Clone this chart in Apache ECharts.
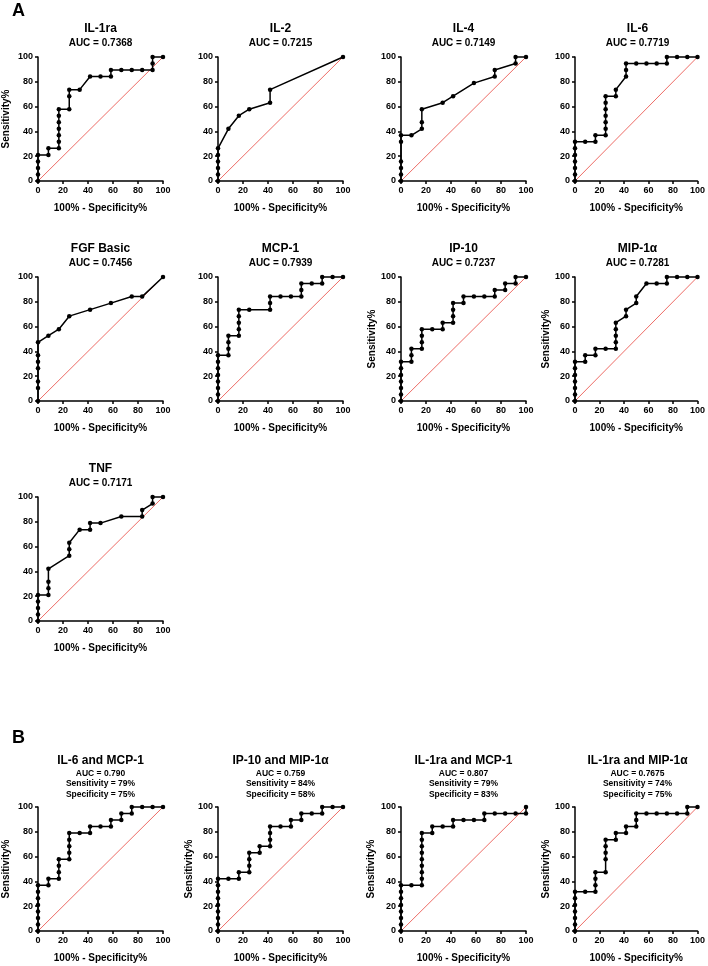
<!DOCTYPE html>
<html>
<head>
<meta charset="utf-8">
<script src="https://cdn.jsdelivr.net/npm/echarts@6/dist/echarts.min.js"></script>
<style>
html, body { margin: 0; padding: 0; background: #fff; }
#main { width: 708px; height: 966px; }
</style>
</head>
<body>
<div id="main"></div>
<script>
// 每个面板的 ROC 曲线数据 [100%-Specificity%, Sensitivity%]
var il1ra = [[0,0],[0,5.26],[0,10.53],[0,15.79],[0,21.05],[8.33,21.05],[8.33,26.32],[16.67,26.32],[16.67,31.58],[16.67,36.84],[16.67,42.11],[16.67,47.37],[16.67,52.63],[16.67,57.89],[25,57.89],[25,68.42],[25,73.68],[33.33,73.68],[41.67,84.21],[50,84.21],[58.33,84.21],[58.33,89.47],[66.67,89.47],[75,89.47],[83.33,89.47],[91.67,89.47],[91.67,94.74],[91.67,100],[100,100]];
var il2 = [[0,0],[0,5.26],[0,10.53],[0,15.79],[0,21.05],[0,26.32],[8.33,42.11],[16.67,52.63],[25,57.89],[41.67,63.16],[41.67,73.68],[100,100]];
var il4 = [[0,0],[0,5.26],[0,10.53],[0,15.79],[0,31.58],[0,36.84],[8.33,36.84],[16.67,42.11],[16.67,47.37],[16.67,57.89],[33.33,63.16],[41.67,68.42],[58.33,78.95],[75,84.21],[75,89.47],[91.67,94.74],[91.67,100],[100,100]];
var il6 = [[0,0],[0,5.26],[0,10.53],[0,15.79],[0,21.05],[0,26.32],[0,31.58],[8.33,31.58],[16.67,31.58],[16.67,36.84],[25,36.84],[25,42.11],[25,47.37],[25,52.63],[25,57.89],[25,63.16],[25,68.42],[33.33,68.42],[33.33,73.68],[41.67,84.21],[41.67,89.47],[41.67,94.74],[50,94.74],[58.33,94.74],[66.67,94.74],[75,94.74],[75,100],[83.33,100],[91.67,100],[100,100]];
var fgf = [[0,0],[0,10.53],[0,15.79],[0,26.32],[0,31.58],[0,36.84],[0,47.37],[8.33,52.63],[16.67,57.89],[25,68.42],[41.67,73.68],[58.33,78.95],[75,84.21],[83.33,84.21],[100,100]];
var mcp1 = [[0,0],[0,5.26],[0,10.53],[0,15.79],[0,21.05],[0,26.32],[0,31.58],[0,36.84],[8.33,36.84],[8.33,42.11],[8.33,47.37],[8.33,52.63],[16.67,52.63],[16.67,57.89],[16.67,63.16],[16.67,68.42],[16.67,73.68],[25,73.68],[41.67,73.68],[41.67,78.95],[41.67,84.21],[50,84.21],[58.33,84.21],[66.67,84.21],[66.67,89.47],[66.67,94.74],[75,94.74],[83.33,94.74],[83.33,100],[91.67,100],[100,100]];
var ip10 = [[0,0],[0,5.26],[0,10.53],[0,15.79],[0,21.05],[0,26.32],[0,31.58],[8.33,31.58],[8.33,36.84],[8.33,42.11],[16.67,42.11],[16.67,47.37],[16.67,52.63],[16.67,57.89],[25,57.89],[33.33,57.89],[33.33,63.16],[41.67,63.16],[41.67,68.42],[41.67,73.68],[41.67,78.95],[50,78.95],[50,84.21],[58.33,84.21],[66.67,84.21],[75,84.21],[75,89.47],[83.33,89.47],[83.33,94.74],[91.67,94.74],[91.67,100],[100,100]];
var mip1a = [[0,0],[0,5.26],[0,10.53],[0,15.79],[0,21.05],[0,26.32],[0,31.58],[8.33,31.58],[8.33,36.84],[16.67,36.84],[16.67,42.11],[25,42.11],[33.33,42.11],[33.33,47.37],[33.33,52.63],[33.33,57.89],[33.33,63.16],[41.67,68.42],[41.67,73.68],[50,78.95],[50,84.21],[58.33,94.74],[66.67,94.74],[75,94.74],[75,100],[83.33,100],[91.67,100],[100,100]];
var tnf = [[0,0],[0,5.26],[0,10.53],[0,15.79],[0,21.05],[8.33,21.05],[8.33,26.32],[8.33,31.58],[8.33,42.11],[25,52.63],[25,57.89],[25,63.16],[33.33,73.68],[41.67,73.68],[41.67,78.95],[50,78.95],[66.67,84.21],[83.33,84.21],[83.33,89.47],[91.67,94.74],[91.67,100],[100,100]];
var il6mcp1 = [[0,0],[0,5.26],[0,10.53],[0,15.79],[0,21.05],[0,26.32],[0,31.58],[0,36.84],[8.33,36.84],[8.33,42.11],[16.67,42.11],[16.67,47.37],[16.67,52.63],[16.67,57.89],[25,57.89],[25,63.16],[25,68.42],[25,73.68],[25,78.95],[33.33,78.95],[41.67,78.95],[41.67,84.21],[50,84.21],[58.33,84.21],[58.33,89.47],[66.67,89.47],[66.67,94.74],[75,94.74],[75,100],[83.33,100],[91.67,100],[100,100]];
var ip10mip = [[0,0],[0,5.26],[0,10.53],[0,15.79],[0,21.05],[0,26.32],[0,31.58],[0,36.84],[0,42.11],[8.33,42.11],[16.67,42.11],[16.67,47.37],[25,47.37],[25,52.63],[25,57.89],[25,63.16],[33.33,63.16],[33.33,68.42],[41.67,68.42],[41.67,73.68],[41.67,78.95],[41.67,84.21],[50,84.21],[58.33,84.21],[58.33,89.47],[66.67,89.47],[66.67,94.74],[75,94.74],[83.33,94.74],[83.33,100],[91.67,100],[100,100]];
var il1ramcp = [[0,0],[0,5.26],[0,10.53],[0,15.79],[0,21.05],[0,26.32],[0,31.58],[0,36.84],[8.33,36.84],[16.67,36.84],[16.67,42.11],[16.67,47.37],[16.67,52.63],[16.67,57.89],[16.67,63.16],[16.67,68.42],[16.67,73.68],[16.67,78.95],[25,78.95],[25,84.21],[33.33,84.21],[41.67,84.21],[41.67,89.47],[50,89.47],[58.33,89.47],[66.67,89.47],[66.67,94.74],[75,94.74],[83.33,94.74],[91.67,94.74],[100,94.74],[100,100]];
var il1ramip = [[0,0],[0,5.26],[0,10.53],[0,15.79],[0,21.05],[0,26.32],[0,31.58],[8.33,31.58],[16.67,31.58],[16.67,36.84],[16.67,42.11],[16.67,47.37],[25,47.37],[25,57.89],[25,63.16],[25,68.42],[25,73.68],[33.33,73.68],[33.33,78.95],[41.67,78.95],[41.67,84.21],[50,84.21],[50,89.47],[50,94.74],[58.33,94.74],[66.67,94.74],[75,94.74],[83.33,94.74],[91.67,94.74],[91.67,100],[100,100]];

var panelNames = ['IL-1ra','IL-2','IL-4','IL-6','FGF Basic','MCP-1','IP-10','MIP-1α','TNF','IL-6 and MCP-1','IP-10 and MIP-1α','IL-1ra and MCP-1','IL-1ra and MIP-1α'];
var panelSubs = ['AUC = 0.7368','AUC = 0.7215','AUC = 0.7149','AUC = 0.7719','AUC = 0.7456','AUC = 0.7939','AUC = 0.7237','AUC = 0.7281','AUC = 0.7171',
	'AUC = 0.790\nSensitivity = 79%\nSpecificity = 75%',
	'AUC = 0.759\nSensitivity = 84%\nSpecificity = 58%',
	'AUC = 0.807\nSensitivity = 79%\nSpecificity = 83%',
	'AUC = 0.7675\nSensitivity = 74%\nSpecificity = 75%'];
var panelData = [il1ra, il2, il4, il6, fgf, mcp1, ip10, mip1a, tnf, il6mcp1, ip10mip, il1ramcp, il1ramip];
var showYName = [true,false,false,false,false,false,true,true,false,true,true,true,true];

// 版面布局
var colLeft = [38, 218, 401, 575];
var rowTop = [57, 277, 497, 807];
var yNameGap = [27,22,22,22,22,22,22,21,22,27,18,25,23];
var fontFam = '"Liberation Sans", Arial, sans-serif';

function makeAxis(i, axisName, gap) {
	return {
		gridIndex: i, type: 'value', min: 0, max: 100, interval: 20,
		name: axisName, nameLocation: 'middle', nameGap: gap,
		axisLine: { show: true, lineStyle: { color: '#000', width: 1.5 } },
		axisTick: { show: true, length: 3, lineStyle: { color: '#000', width: 1.5 } },
		splitLine: { show: false },
		axisLabel: { color: '#000', fontWeight: 'bold', fontSize: 9, fontFamily: fontFam, margin: 5 },
		nameTextStyle: { color: '#000', fontWeight: 'bold', fontSize: 10, fontFamily: fontFam }
	};
}

var grids = [], xAxes = [], yAxes = [], series = [], titles = [];

for (var i = 0; i < panelData.length; i++) {
	var row = i < 9 ? Math.floor(i / 4) : 3;
	var col = i < 9 ? i % 4 : i - 9;
	var gLeft = colLeft[col], gTop = rowTop[row];
	grids.push({ left: gLeft, top: gTop, width: 125, height: 124 });

	xAxes.push(makeAxis(i, '100% - Specificity%', 22));
	yAxes.push(makeAxis(i, showYName[i] ? 'Sensitivity%' : '', yNameGap[i]));

	// 参考线
	series.push({
		type: 'line', xAxisIndex: i, yAxisIndex: i, data: [[0,0],[100,100]],
		symbol: 'none', silent: true, z: 1,
		lineStyle: { color: '#e8463f', width: 0.8 }
	});
	series.push({
		type: 'line', xAxisIndex: i, yAxisIndex: i, data: panelData[i],
		symbol: 'circle', symbolSize: 4.5, clip: false, z: 3,
		itemStyle: { color: '#000' },
		lineStyle: { color: '#000', width: 1.5 }
	});

	var isB = i >= 9;
	titles.push({
		text: panelNames[i], subtext: panelSubs[i],
		left: gLeft + 62.5, textAlign: 'center', padding: 0,
		top: isB ? gTop - 53 : gTop - 35, itemGap: isB ? 0 : 1,
		textStyle: { color: '#000', fontWeight: 'bold', fontSize: 12, fontFamily: fontFam, lineHeight: 14 },
		subtextStyle: { color: '#000', fontWeight: 'bold', fontSize: isB ? 8.5 : 10, fontFamily: fontFam, lineHeight: isB ? 10.5 : 12 }
	});
}

var myChart = echarts.init(document.getElementById('main'));
myChart.setOption({
	backgroundColor: '#fff',
	animation: false,
	title: titles,
	grid: grids,
	xAxis: xAxes,
	yAxis: yAxes,
	series: series,
	graphic: [
		{ type: 'text', left: 12, top: 2, style: { text: 'A', fontSize: 18, fontWeight: 'bold', fontFamily: fontFam, fill: '#000' } },
		{ type: 'text', left: 12, top: 729, style: { text: 'B', fontSize: 18, fontWeight: 'bold', fontFamily: fontFam, fill: '#000' } }
	]
});
</script>
</body>
</html>
